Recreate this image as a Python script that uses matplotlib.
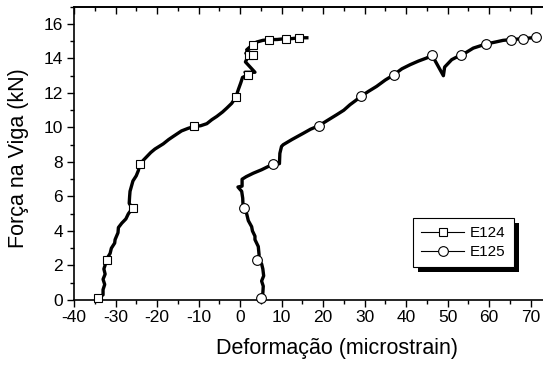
import matplotlib
matplotlib.use("Agg")
import matplotlib.pyplot as plt
from matplotlib.ticker import MultipleLocator
from matplotlib.patches import Rectangle
from matplotlib.transforms import IdentityTransform

plt.rcParams['font.family'] = ['Liberation Sans', 'DejaVu Sans']
plt.rcParams['axes.unicode_minus'] = False

# --- data ---
e124_x = [-34.1, -33.0, -33.0, -32.6, -33.0, -32.5, -32.8, -32.1, -31.8, -31.3,
          -31.0, -30.2, -30.1, -29.4, -29.3, -28.5, -27.5, -26.9, -25.9, -26.7,
          -26.6, -26.5, -25.8, -25.0, -24.5, -24.1, -23.3, -22.5, -21.5, -20.5,
          -19.5, -18.5, -17.2, -16.1, -14.1, -12.5, -11.0, -9.5, -8.0, -6.8,
          -5.6, -4.2, -3.2, -2.0, -1.0, -0.4, 0.2, 0.6, 2.0, 1.2,
          3.6, 1.3, 2.1, 1.4, 3.2, 1.6, 3.05, 4.0, 5.5, 7.1,
          9.0, 11.0, 12.5, 14.2, 16.1]
e124_y = [0.13, 0.3, 0.6, 0.9, 1.2, 1.5, 1.8, 2.32, 2.5, 2.7,
          3.0, 3.3, 3.5, 3.9, 4.2, 4.45, 4.7, 5.0, 5.32, 5.6,
          6.0, 6.3, 6.9, 7.2, 7.5, 7.88, 8.1, 8.3, 8.55, 8.75,
          8.9, 9.05, 9.3, 9.48, 9.8, 9.95, 10.06, 10.1, 10.22, 10.45,
          10.64, 10.9, 11.12, 11.4, 11.76, 12.2, 12.6, 12.9, 13.06, 13.2,
          13.2, 13.8, 14.18, 14.3, 14.18, 14.5, 14.8, 14.95, 15.05, 15.09,
          15.1, 15.15, 15.15, 15.2, 15.2]
e124_marks = [0, 7, 18, 25, 36, 44, 48, 52, 54, 56, 59, 61, 63]

e125_x = [5.06, 5.5, 5.6, 5.2, 5.7, 5.5, 5.2, 4.0, 4.6, 4.4,
          3.6, 3.6, 3.0, 2.8, 2.0, 1.6, 1.0, 0.7, 0.65, 0.4,
          -0.5, 0.5, 0.5, 1.5, 3.2, 5.2, 8.0, 9.5, 9.6, 10.0,
          10.4, 12.5, 15.3, 17.0, 19.0, 21.0, 23.3, 25.0, 26.5, 27.8,
          29.1, 31.0, 32.9, 35.0, 37.1, 39.0, 41.0, 43.0, 45.0, 46.2,
          49.0, 49.3, 51.0, 53.3, 54.5, 56.2, 59.3, 61.5, 63.4, 65.2,
          68.3, 71.2]
e125_y = [0.13, 0.4, 0.8, 1.1, 1.4, 1.8, 2.1, 2.32, 2.6, 3.1,
          3.5, 3.7, 4.0, 4.25, 4.6, 5.0, 5.32, 5.6, 5.9, 6.3,
          6.55, 6.6, 7.0, 7.15, 7.35, 7.55, 7.88, 7.9, 8.5, 8.9,
          9.0, 9.3, 9.67, 9.9, 10.1, 10.4, 10.74, 11.0, 11.32, 11.55,
          11.8, 12.1, 12.38, 12.75, 13.06, 13.4, 13.64, 13.85, 14.03, 14.22,
          13.0, 13.5, 13.93, 14.22, 14.35, 14.6, 14.84, 14.95, 15.05, 15.09,
          15.15, 15.22]
e125_marks = [0, 7, 16, 26, 34, 40, 44, 49, 53, 56, 59, 60, 61]

fig = plt.figure(figsize=(5.43, 3.68), dpi=100)
ax = fig.add_axes([74 / 543, 68 / 368, 469 / 543, 293.3 / 368])

# thick "noisy" trace underneath, thin line + open markers on top
ax.plot(e124_x, e124_y, color='k', lw=2.4, zorder=2)
ax.plot(e125_x, e125_y, color='k', lw=2.4, zorder=2)
ax.plot(e124_x, e124_y, color='k', lw=0.8, marker='s', ms=6, mfc='w', mec='k',
        mew=0.8, markevery=e124_marks, label='E124', zorder=3, clip_on=False)
ax.plot(e125_x, e125_y, color='k', lw=0.8, marker='o', ms=7, mfc='w', mec='k',
        mew=0.8, markevery=e125_marks, label='E125', zorder=3, clip_on=False)

ax.set_xlim(-40, 73)
ax.set_ylim(0, 17)
ax.xaxis.set_major_locator(MultipleLocator(10))
ax.xaxis.set_minor_locator(MultipleLocator(5))
ax.yaxis.set_major_locator(MultipleLocator(2))
ax.yaxis.set_minor_locator(MultipleLocator(1))
ax.tick_params(which='major', direction='out', length=5, width=1.0, labelsize=12.5, pad=2)
ax.tick_params(which='minor', direction='out', length=3, width=1.0)
ax.tick_params(axis='y', pad=3)

top = ax.secondary_xaxis('top')
top.xaxis.set_major_locator(MultipleLocator(10))
top.xaxis.set_minor_locator(MultipleLocator(5))
top.tick_params(which='major', direction='in', length=5, width=1.0, labeltop=False)
top.tick_params(which='minor', direction='in', length=3, width=1.0)
top.spines['top'].set_linewidth(1.2)

for s in ['left', 'bottom', 'top']:
    ax.spines[s].set_linewidth(1.2)
ax.spines['right'].set_visible(False)

ax.set_xlabel('Deformação (microstrain)', fontsize=15.5)
ax.set_ylabel('Força na Viga (kN)', fontsize=15.5)
ax.xaxis.set_label_coords((337 - 74) / 469, -0.13)
ax.yaxis.set_label_coords(-0.097, (300 - 158) / 293.3)

leg = ax.legend(loc='upper left', bbox_to_anchor=(413 / 543, 1 - 218 / 368),
                bbox_transform=fig.transFigure, fontsize=11, frameon=True,
                fancybox=False, framealpha=1, borderaxespad=0, handlelength=2.8,
                handletextpad=0.35, labelspacing=0.3, borderpad=0.55)
leg.get_frame().set_edgecolor('k')
leg.get_frame().set_linewidth(0.8)
leg.set_zorder(6)

# solid black drop shadow behind the legend
fig.canvas.draw()
bb = leg.get_window_extent()
ax.add_patch(Rectangle((bb.x0 + 5, bb.y0 - 5), bb.width, bb.height,
                       transform=IdentityTransform(), facecolor='k',
                       edgecolor='none', zorder=5, clip_on=False))

fig.savefig('out.png', dpi=100)
